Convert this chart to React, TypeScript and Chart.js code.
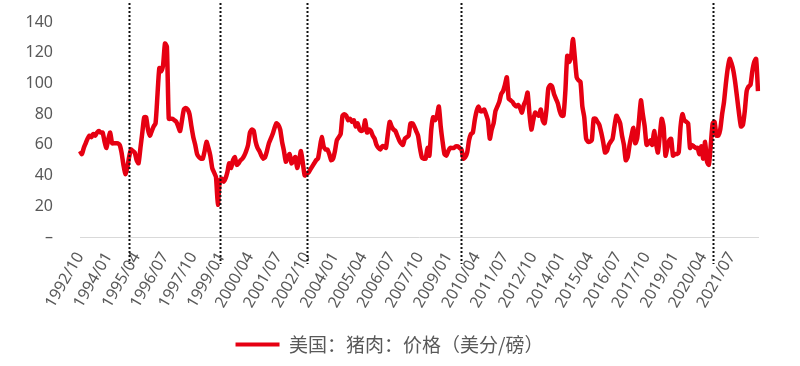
import React, { useEffect, useRef } from 'react';
import { Chart, registerables } from 'chart.js';

Chart.register(...registerables);

const SERIES_NAME = '美国：猪肉：价格（美分/磅）';
const START_YEAR = 1992;
const START_MONTH = 10;
const LABEL_STEP = 15;

// monthly values, 1992/10 onward (US cents per pound)
const porkPrice: number[] = [
  56, 54, 58, 61, 64, 66, 65, 67, 66, 68,
  69, 68, 68, 62, 58, 64, 68, 61, 61, 61,
  61, 60, 55, 47, 41, 45, 52, 57, 56, 55,
  50, 48, 58, 68, 78, 78, 70, 66, 69, 72,
  74, 92, 110, 108, 112, 126, 124, 77, 77, 77,
  76, 75, 72, 69, 76, 83, 84, 83, 80, 72,
  65, 60, 54, 52, 51, 51, 56, 62, 58, 53,
  45, 42, 39, 21, 37, 38, 36, 38, 42, 48,
  45, 50, 52, 47, 48, 50, 51, 53, 56, 60,
  68, 70, 69, 62, 58, 56, 53, 51, 52, 56,
  61, 64, 67, 71, 74, 73, 70, 62, 56, 49,
  52, 54, 48, 50, 52, 45, 50, 56, 48, 40,
  41, 42, 44, 46, 48, 50, 51, 58, 65, 59,
  57, 57, 54, 50, 51, 56, 63, 65, 67, 79,
  80, 79, 76, 77, 75, 76, 72, 74, 70, 69,
  70, 76, 68, 70, 69, 66, 64, 60, 58, 57,
  59, 59, 58, 67, 75, 72, 70, 69, 66, 63,
  61, 60, 64, 65, 66, 74, 74, 72, 69, 66,
  58, 52, 51, 51, 58, 53, 70, 78, 76, 79,
  85, 72, 62, 54, 53, 56, 58, 58, 58, 59,
  59, 58, 57, 51, 52, 55, 63, 67, 68, 76,
  82, 85, 82, 82, 83, 80, 76, 64, 70, 74,
  82, 85, 88, 93, 95, 99, 104, 90, 89, 88,
  86, 85, 86, 84, 81, 86, 89, 94, 80, 70,
  76, 81, 80, 79, 83, 76, 74, 83, 97, 99,
  98, 93, 90, 87, 82, 79, 79, 95, 118, 114,
  117, 129, 117, 104, 102, 101, 85, 78, 64, 62,
  62, 63, 77, 77, 75, 73, 68, 62, 55, 56,
  60, 62, 64, 72, 79, 77, 74, 66, 60, 50,
  52, 60, 66, 71, 61, 64, 76, 89, 80, 72,
  60, 61, 63, 60, 69, 61, 55, 66, 77, 72,
  53, 58, 63, 64, 53, 54, 54, 55, 72, 80,
  76, 75, 74, 58, 60, 59, 58, 58, 54, 59,
  51, 62, 49, 47, 60, 74, 75, 66, 66, 70,
  80, 88, 100, 110, 116, 113, 108, 100, 90, 80,
  72, 73, 82, 95, 98, 99, 108, 114, 116, 95,
];

const months: string[] = porkPrice.map((_, i) => {
  const m = START_MONTH - 1 + i;
  const y = START_YEAR + Math.floor(m / 12);
  const mm = (m % 12) + 1;
  return `${y}/${String(mm).padStart(2, '0')}`;
});

const markerMonths = ['1994/12', '1998/12', '2002/10', '2009/08', '2020/09'];

const Y_MIN = 0;
const Y_MAX = 140;
const Y_STEP = 20;

const RED = '#E60012';
const GRAY_TEXT = '#595959';

const markerPlugin = {
  id: 'markerLines',
  afterDatasetsDraw(chart: any) {
    const { ctx, chartArea } = chart;
    const x = chart.scales.x;
    ctx.save();
    ctx.strokeStyle = '#111';
    ctx.lineWidth = 2;
    ctx.setLineDash([2, 2]);
    markerMonths.forEach((m) => {
      const idx = months.indexOf(m);
      if (idx < 0) return;
      const px = Math.round(x.getPixelForValue(idx)) + 0.5;
      ctx.beginPath();
      ctx.moveTo(px, chartArea.top - 19);
      ctx.lineTo(px, chartArea.bottom + 27);
      ctx.stroke();
    });
    ctx.restore();
  },
};

export default function App() {
  const ref = useRef<HTMLCanvasElement | null>(null);

  useEffect(() => {
    if (!ref.current) return;
    const chart = new Chart(ref.current, {
      type: 'line',
      data: {
        labels: months,
        datasets: [
          {
            label: SERIES_NAME,
            data: porkPrice,
            borderColor: RED,
            backgroundColor: RED,
            borderWidth: 4.5,
            pointRadius: 0,
            tension: 0.2,
            fill: false,
          },
        ],
      },
      options: {
        responsive: true,
        maintainAspectRatio: false,
        animation: false,
        layout: { padding: { top: 22, right: 21, bottom: 2, left: 0 } },
        plugins: {
          tooltip: { enabled: false },
          legend: {
            position: 'bottom',
            labels: {
              boxWidth: 44,
              boxHeight: 4,
              color: GRAY_TEXT,
              padding: 10,
              font: { family: '"Noto Sans CJK SC", "Noto Sans", sans-serif', size: 19 },
              generateLabels: () => [
                {
                  text: SERIES_NAME,
                  fillStyle: RED,
                  strokeStyle: RED,
                  lineWidth: 0,
                  hidden: false,
                  datasetIndex: 0,
                  fontColor: GRAY_TEXT,
                } as any,
              ],
            },
          },
        },
        scales: {
          x: {
            type: 'category',
            offset: false,
            grid: { display: false, drawTicks: false },
            border: { display: true, color: '#d9d9d9', width: 1 },
            afterFit: (axis: any) => {
              axis.height = 88;
            },
            ticks: {
              autoSkip: false,
              maxRotation: 60,
              minRotation: 60,
              padding: 12,
              color: GRAY_TEXT,
              font: { family: '"Noto Sans", sans-serif', size: 16 },
              callback: (_v: any, i: number) => (i % LABEL_STEP === 0 ? months[i] : null),
            },
          },
          y: {
            position: 'left',
            min: Y_MIN,
            max: Y_MAX,
            grid: { display: false, drawTicks: true, tickLength: 24 },
            border: { display: false },
            afterFit: (axis: any) => {
              axis.width = 80;
            },
            ticks: {
              stepSize: Y_STEP,
              padding: 3,
              color: GRAY_TEXT,
              font: { family: '"Noto Sans", sans-serif', size: 16 },
              callback: (v: any) => (v === 0 ? '–' : String(v)),
            },
          },
          yRight: {
            position: 'right',
            display: true,
            grid: { display: false, drawTicks: false },
            border: { display: false },
            ticks: { display: false },
            afterFit: (axis: any) => {
              axis.width = 21;
            },
          },
        },
      },
      plugins: [markerPlugin],
    });
    return () => chart.destroy();
  }, []);

  return (
    <div style={{ position: 'absolute', left: 0, top: 0, width: 800, height: 366, background: '#fff' }}>
      <canvas ref={ref} />
    </div>
  );
}
